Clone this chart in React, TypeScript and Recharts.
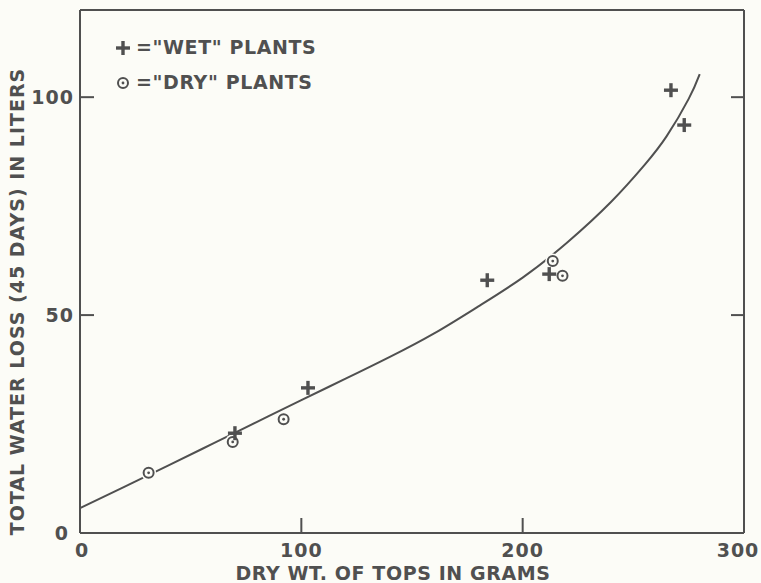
import React from 'react';
import { ComposedChart, XAxis, YAxis, Scatter, Line, Legend, ReferenceLine } from 'recharts';

// "Wet" plants: dry weight of tops (g) vs. total water loss over 45 days (L)
const wetWeight = [70, 103, 184, 212, 267, 273];
const wetLoss = [22.9, 33.3, 58, 59.4, 101.6, 93.6];

// "Dry" plants
const dryWeight = [31, 69, 92, 213.6, 218];
const dryLoss = [13.8, 20.9, 26.1, 62.4, 59];

// Fitted curve through both groups
const curveWeight = [0, 20, 40, 60, 80, 100, 120, 140, 160, 180, 200, 220, 240, 255, 265, 275, 280];
const curveLoss = [5.7, 10.6, 15.5, 20.5, 25.5, 30.5, 35.4, 40.4, 45.8, 52.0, 58.6, 66.6, 76.0, 84.4, 91.0, 99.6, 105.3];

const xTicks = [0, 100, 200, 300];
const yTicks = [0, 50, 100];
const rightTicks = [50, 100];
const frameTicks = [0, 300];

const INK = '#505050';
const PAPER = '#fcfcf7';
const FONT = '"DejaVu Sans", sans-serif';

const wetData = wetWeight.map((x, i) => ({ x, y: wetLoss[i] }));
const dryData = dryWeight.map((x, i) => ({ x, y: dryLoss[i] }));
const curveData = curveWeight.map((x, i) => ({ x, y: curveLoss[i] }));

const PlusMark = ({ cx, cy }: { cx: number; cy: number }) => (
  <g stroke={INK} strokeWidth={3.4} strokeLinecap="butt">
    <line x1={cx - 7} y1={cy} x2={cx + 7} y2={cy} />
    <line x1={cx} y1={cy - 7} x2={cx} y2={cy + 7} />
  </g>
);

const RingMark = ({ cx, cy }: { cx: number; cy: number }) => (
  <g>
    <circle cx={cx} cy={cy} r={7.5} fill={PAPER} />
    <circle cx={cx} cy={cy} r={5} fill="none" stroke={INK} strokeWidth={2} />
    <circle cx={cx} cy={cy} r={1.4} fill={INK} />
  </g>
);

const textStyle = {
  fontFamily: FONT,
  fontWeight: 700,
  fontSize: 19,
  fill: INK,
  letterSpacing: 1,
};

const BottomTick = (props: any) => {
  const { x, y, payload } = props;
  const v = payload.value;
  const dx = v === 0 ? 2 : v === 300 ? -6 : 0;
  return (
    <g>
      {v !== 0 && v !== 300 && (
        <line x1={x} y1={y} x2={x} y2={y - 15} stroke={INK} strokeWidth={2} />
      )}
      <text x={x + dx} y={y + 24} textAnchor="middle" {...textStyle}>
        {v}
      </text>
    </g>
  );
};

const LeftTick = (props: any) => {
  const { x, y, payload } = props;
  const v = payload.value;
  return (
    <g>
      {v !== 0 && (
        <line x1={x} y1={y} x2={x + 14} y2={y} stroke={INK} strokeWidth={2} />
      )}
      <text x={v === 0 ? x - 11 : x - 6} y={y + 7} textAnchor="end" {...textStyle}>
        {v}
      </text>
    </g>
  );
};

// Short inward tick on the right-hand frame
const RightTickShape = (props: any) => {
  const xr = Math.max(props.x1, props.x2);
  const yy = props.y1;
  return <line x1={xr} y1={yy} x2={xr - 13} y2={yy} stroke={INK} strokeWidth={2} />;
};

const NoTick = () => <g />;

const LegendBox = () => (
  <div style={{ fontFamily: FONT, fontWeight: 700, fontSize: 19, color: INK, letterSpacing: 0.6, lineHeight: '35px' }}>
    <div style={{ display: 'flex', alignItems: 'center' }}>
      <svg width={24} height={20}>
        <PlusMark cx={11} cy={10} />
      </svg>
      <span>{'="WET" PLANTS'}</span>
    </div>
    <div style={{ display: 'flex', alignItems: 'center' }}>
      <svg width={24} height={20}>
        <RingMark cx={11} cy={10} />
      </svg>
      <span>{'="DRY" PLANTS'}</span>
    </div>
  </div>
);

export default function App() {
  return (
    <div style={{ position: 'absolute', left: 0, top: 0, width: 761, height: 583, background: PAPER }}>
      <ComposedChart
        width={761}
        height={583}
        margin={{ top: 9, right: 16, bottom: 0, left: 0 }}
      >
        <XAxis
          dataKey="x"
          type="number"
          domain={[0, 300]}
          ticks={xTicks}
          height={50}
          tickSize={0}
          tickMargin={0}
          tickLine={false}
          axisLine={{ stroke: INK, strokeWidth: 2 }}
          tick={BottomTick}
          interval={0}
          label={{
            content: (p: any) => {
              const vb = p.viewBox;
              return (
                <text
                  x={vb.x + vb.width / 2 - 19}
                  y={vb.y + 47}
                  textAnchor="middle"
                  {...textStyle}
                  letterSpacing={0.6}
                >
                  DRY WT. OF TOPS IN GRAMS
                </text>
              );
            },
          }}
        />
        <XAxis
          xAxisId="top"
          orientation="top"
          type="number"
          domain={[0, 300]}
          ticks={frameTicks}
          height={1}
          tick={NoTick}
          tickLine={false}
          axisLine={{ stroke: INK, strokeWidth: 2 }}
        />
        <YAxis
          dataKey="y"
          type="number"
          domain={[0, 120]}
          ticks={yTicks}
          width={80}
          tickSize={0}
          tickMargin={0}
          tickLine={false}
          axisLine={{ stroke: INK, strokeWidth: 2 }}
          tick={LeftTick}
          interval={0}
          label={{
            content: (p: any) => {
              const vb = p.viewBox;
              const cx = vb.x + 17;
              const cy = vb.y + vb.height / 2 + 30;
              return (
                <text
                  x={cx}
                  y={cy}
                  transform={`rotate(-90 ${cx} ${cy})`}
                  textAnchor="middle"
                  dominantBaseline="central"
                  {...textStyle}
                >
                  TOTAL WATER LOSS (45 DAYS) IN LITERS
                </text>
              );
            },
          }}
        />
        <YAxis
          yAxisId="right"
          orientation="right"
          type="number"
          domain={[0, 120]}
          ticks={frameTicks}
          width={1}
          tickLine={false}
          axisLine={{ stroke: INK, strokeWidth: 2 }}
          tick={NoTick}
        />
        {rightTicks.map((v) => (
          <ReferenceLine key={v} y={v} shape={RightTickShape} />
        ))}
        <Legend
          layout="horizontal"
          verticalAlign="middle"
          align="center"
          wrapperStyle={{ top: 30, left: 112, width: 'auto' }}
          content={() => <LegendBox />}
        />
        <Line
          data={curveData}
          dataKey="y"
          type="natural"
          dot={false}
          activeDot={false}
          stroke={INK}
          strokeWidth={2}
          isAnimationActive={false}
          legendType="none"
        />
        <Scatter
          data={dryData}
          shape={(p: any) => <RingMark cx={p.cx} cy={p.cy} />}
          isAnimationActive={false}
        />
        <Scatter
          data={wetData}
          shape={(p: any) => <PlusMark cx={p.cx} cy={p.cy} />}
          isAnimationActive={false}
        />
      </ComposedChart>
    </div>
  );
}
